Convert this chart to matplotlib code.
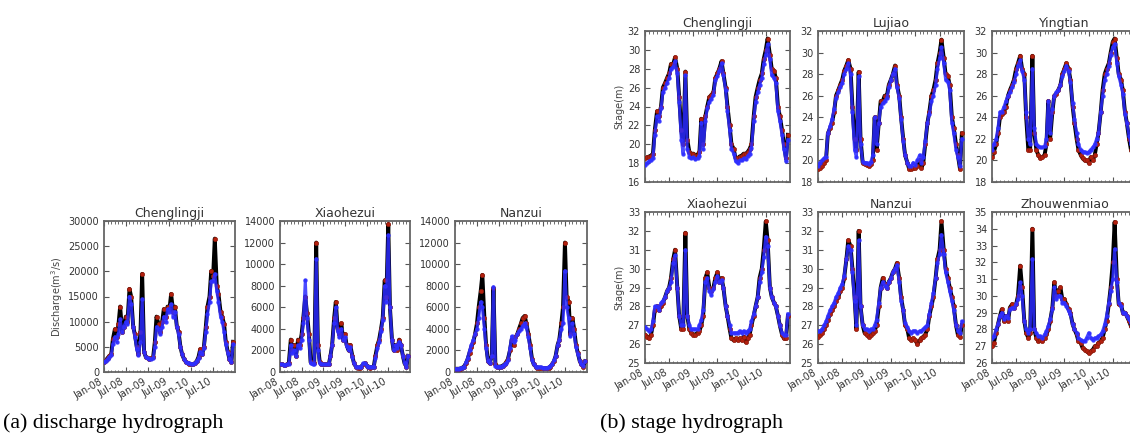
import matplotlib
matplotlib.use("Agg")
import matplotlib.pyplot as plt
import matplotlib.dates as mdates
import pandas as pd
from datetime import datetime

# semi-monthly sampling, Jan 2008 - Dec 2010
dates = pd.date_range("2008-01-01", "2010-12-16", freq="SMS")

# ---- discharge (m3/s) ----
q_cheng_obs = [2000, 2300, 2800, 3200, 3500, 6500, 8500, 7000, 9500, 13000, 8000, 9000,
               11000, 10000, 16500, 15000, 9000, 7500, 5000, 3500, 8000, 19500, 4000, 3000,
               2800, 2600, 2700, 3000, 6000, 11000, 9500, 8000, 10000, 12500, 11000, 13000,
               12500, 15500, 12000, 13000, 9000, 8000, 5000, 3500, 2500, 2000, 1800, 1600,
               1500, 1500, 1800, 2200, 3000, 4500, 3500, 5000, 9000, 13000, 15000, 20000,
               19000, 26500, 17000, 15500, 12000, 11000, 9500, 6000, 4000, 2500, 2000, 6000]
q_cheng_sim = [2000, 2200, 2600, 3000, 3300, 5500, 7000, 6000, 7500, 10500, 8000, 9000,
               10000, 9500, 15000, 13500, 9000, 7000, 4500, 3300, 6000, 14500, 4000, 3000,
               2700, 2500, 2600, 2800, 5000, 9000, 8500, 7500, 9000, 11000, 10000, 12500,
               12000, 13500, 11000, 12000, 9000, 7500, 5000, 3500, 2500, 2000, 1800, 1700,
               1600, 1600, 1800, 2200, 2800, 4000, 3500, 4800, 8000, 11500, 14000, 18000,
               18000, 19500, 16000, 14000, 11000, 10000, 8000, 5500, 3800, 2500, 2000, 5500]

q_xiao_obs = [700, 700, 650, 650, 700, 800, 3000, 2000, 2500, 1500, 3000, 2500,
              3500, 5000, 7000, 5500, 3500, 900, 800, 800, 12000, 2500, 900, 700,
              700, 700, 700, 700, 1500, 2500, 5000, 6500, 4000, 3500, 4500, 3000,
              3500, 2500, 2000, 2500, 1500, 800, 500, 400, 400, 500, 700, 800,
              600, 500, 400, 450, 500, 1500, 2500, 3000, 4000, 5000, 8500, 7000,
              13700, 6000, 3000, 2000, 2500, 2000, 3000, 2500, 1500, 800, 500, 1500]
q_xiao_sim = [700, 700, 650, 650, 700, 700, 2500, 1800, 2000, 1500, 2500, 2200,
              3000, 4500, 8500, 5000, 3000, 800, 700, 700, 10500, 2000, 800, 700,
              700, 700, 700, 700, 1500, 2500, 4500, 6000, 3800, 3200, 4000, 3000,
              3200, 2400, 2000, 2300, 1400, 800, 500, 450, 450, 500, 800, 800,
              600, 500, 450, 450, 500, 1300, 2200, 2800, 3800, 4800, 8000, 6500,
              12700, 6000, 3000, 2000, 2500, 2200, 2800, 2500, 1500, 800, 500, 1500]

q_nan_obs = [300, 300, 300, 300, 400, 500, 800, 1200, 1800, 2300, 2800, 3500,
             4500, 6000, 7500, 9000, 5000, 2500, 1000, 800, 1500, 7800, 700, 500,
             500, 500, 600, 700, 900, 1200, 2000, 3000, 2500, 3200, 3500, 4000,
             4500, 5000, 5200, 4500, 3500, 2500, 1200, 700, 500, 400, 400, 400,
             350, 350, 350, 400, 500, 700, 1000, 1500, 2500, 3000, 4500, 6000,
             12000, 7000, 6500, 3500, 5000, 4000, 2500, 1800, 1000, 700, 500, 1000]
q_nan_sim = [300, 300, 300, 350, 400, 500, 900, 1300, 2000, 2500, 3000, 3500,
             4000, 5000, 6500, 6000, 4000, 2200, 1000, 800, 1500, 7900, 600, 500,
             500, 500, 600, 700, 800, 1100, 2200, 3300, 2800, 3000, 3500, 3800,
             4000, 4300, 4500, 4200, 3200, 2200, 1100, 700, 500, 450, 450, 450,
             400, 400, 400, 450, 550, 700, 1100, 1500, 2500, 3000, 4000, 4500,
             9400, 6000, 5000, 3300, 4500, 3500, 2300, 1700, 1000, 700, 600, 1000]

# ---- stage (m) ----
h_cheng_obs = [18.5, 18.6, 18.7, 18.8, 19.0, 21.5, 23.5, 23.0, 24.0, 26.0, 26.5, 27.0,
               27.5, 28.5, 28.5, 29.2, 28.0, 25.0, 21.5, 20.0, 27.7, 20.5, 19.2, 19.0,
               19.0, 18.8, 18.9, 19.2, 22.7, 20.0, 23.0, 24.0, 25.0, 25.2, 25.5, 27.0,
               27.5, 28.0, 28.8, 27.5, 26.0, 24.0, 22.0, 20.0, 19.5, 18.5, 18.5, 18.7,
               18.8, 19.0, 19.0, 19.2, 19.5, 20.0, 23.0, 25.0, 26.0, 26.8, 27.5, 29.0,
               30.0, 31.2, 29.5, 28.0, 27.8, 27.0, 24.0, 23.0, 21.5, 20.0, 18.5, 21.0]
h_cheng_sim = [17.8, 18.0, 18.2, 18.3, 18.5, 21.0, 23.0, 22.5, 23.8, 25.5, 26.0, 26.5,
               27.0, 28.0, 28.2, 28.8, 27.5, 24.5, 20.5, 19.0, 27.3, 19.5, 18.7, 18.5,
               18.6, 18.4, 18.5, 18.8, 22.3, 19.5, 22.5, 23.8, 24.5, 24.8, 25.2, 26.8,
               27.2, 27.8, 28.6, 27.3, 25.8, 23.5, 21.5, 19.5, 19.0, 18.2, 18.0, 18.3,
               18.3, 18.5, 18.4, 18.8, 19.0, 19.6, 22.5, 24.5, 25.5, 26.3, 27.0, 28.5,
               29.5, 30.6, 29.0, 27.3, 27.0, 26.5, 23.5, 22.5, 21.0, 19.5, 18.2, 20.5]

h_luj_obs = [19.2, 19.3, 19.5, 19.8, 20.0, 22.5, 23.0, 23.5, 24.5, 26.0, 26.5, 27.0,
             27.5, 28.3, 28.8, 29.3, 28.5, 25.0, 22.0, 21.0, 28.2, 22.0, 19.8, 19.7,
             19.6, 19.5, 19.7, 20.0, 24.0, 21.0, 23.5, 25.5, 25.5, 26.0, 26.0, 27.0,
             27.5, 28.0, 28.8, 27.0, 26.0, 24.0, 22.0, 20.5, 19.8, 19.2, 19.2, 19.3,
             19.3, 19.5, 20.0, 19.3, 19.8, 21.5, 23.5, 24.5, 26.0, 26.5, 27.5, 29.0,
             30.0, 31.2, 29.5, 28.0, 27.8, 27.0, 24.0, 23.0, 21.5, 20.5, 19.2, 22.5]
h_luj_sim = [19.5, 19.8, 20.0, 20.2, 20.3, 22.5, 23.2, 23.8, 24.8, 25.8, 26.3, 26.8,
             27.2, 28.0, 28.5, 29.0, 28.0, 24.5, 21.0, 20.3, 27.8, 21.5, 19.9, 19.8,
             19.8, 19.7, 19.9, 20.5, 24.0, 21.5, 23.5, 25.0, 25.3, 25.5, 25.8, 26.8,
             27.5, 28.0, 28.5, 26.8, 25.8, 23.8, 21.8, 20.5, 19.8, 19.5, 19.5, 19.8,
             19.6, 20.0, 20.5, 19.8, 20.3, 21.8, 23.5, 24.3, 25.5, 26.0, 27.0, 28.5,
             29.5, 30.5, 29.0, 27.5, 27.3, 26.5, 23.5, 22.5, 21.0, 20.3, 19.5, 22.0]

h_ying_obs = [20.3, 20.8, 21.5, 22.5, 24.0, 24.3, 24.5, 25.0, 26.0, 26.5, 27.0, 27.5,
              28.5, 29.0, 29.7, 28.5, 28.0, 24.0, 21.0, 21.0, 29.7, 22.5, 21.0, 20.5,
              20.2, 20.3, 20.5, 21.5, 25.5, 22.0, 24.5, 26.0, 26.2, 26.5, 27.0, 28.0,
              28.5, 29.0, 28.5, 27.5, 25.0, 23.5, 22.0, 21.0, 20.5, 20.2, 20.0, 20.0,
              19.8, 20.3, 20.0, 20.5, 21.5, 22.5, 24.5, 26.5, 28.0, 28.5, 29.0, 30.0,
              31.0, 31.3, 29.5, 28.0, 27.5, 26.5, 24.5, 23.5, 22.0, 21.0, 20.5, 21.5]
h_ying_sim = [21.0, 21.5, 22.0, 23.0, 24.5, 24.5, 25.0, 25.5, 26.0, 26.3, 26.8, 27.3,
              28.0, 28.8, 29.3, 28.3, 27.5, 24.5, 22.0, 21.5, 28.5, 23.0, 21.5, 21.3,
              21.2, 21.2, 21.3, 22.0, 25.5, 22.5, 24.8, 26.0, 26.3, 26.5, 27.0, 27.8,
              28.3, 28.8, 28.3, 27.3, 25.3, 23.8, 22.5, 21.5, 21.0, 20.8, 20.8, 20.7,
              20.8, 21.0, 21.2, 21.5, 22.0, 22.5, 24.5, 26.0, 27.5, 28.0, 28.8, 29.8,
              30.5, 30.8, 29.0, 27.8, 27.0, 26.2, 24.3, 23.5, 22.3, 21.5, 21.0, 22.0]

h_xiao_obs = [26.5, 26.4, 26.3, 26.5, 27.0, 27.8, 28.0, 27.8, 28.0, 28.2, 28.5, 28.8,
              29.0, 29.5, 30.5, 31.0, 29.0, 27.5, 26.8, 26.8, 31.9, 27.5, 26.8, 26.6,
              26.5, 26.5, 26.6, 26.7, 27.0, 27.5, 29.5, 29.8, 29.0, 28.8, 29.0, 29.5,
              29.8, 29.3, 29.5, 29.0, 28.0, 27.5, 26.8, 26.3, 26.2, 26.3, 26.2, 26.3,
              26.2, 26.4, 26.1, 26.3, 26.5, 27.0, 27.5, 28.0, 28.5, 29.5, 30.0, 31.0,
              32.5, 31.5, 29.0, 28.5, 28.2, 28.0, 27.5, 27.0, 26.5, 26.3, 26.3, 27.5]
h_xiao_sim = [26.9, 26.8, 26.7, 26.8, 27.2, 28.0, 28.0, 27.8, 28.2, 28.3, 28.5, 28.8,
              29.0, 29.3, 30.3, 30.7, 29.0, 27.5, 27.0, 27.0, 31.0, 27.5, 27.0, 26.8,
              26.8, 26.8, 26.8, 27.0, 27.3, 27.8, 29.3, 29.5, 28.8, 28.6, 28.9, 29.3,
              29.6, 29.3, 29.4, 29.0, 28.0, 27.5, 27.0, 26.6, 26.6, 26.6, 26.6, 26.7,
              26.6, 26.7, 26.6, 26.7, 26.8, 27.2, 27.6, 28.0, 28.5, 29.3, 29.8, 30.6,
              31.7, 31.2, 29.0, 28.5, 28.2, 28.0, 27.5, 27.0, 26.6, 26.5, 26.5, 27.6]

h_nan_obs = [26.4, 26.5, 26.6, 26.8, 27.0, 27.3, 27.6, 27.8, 28.0, 28.3, 28.5, 28.8,
             29.0, 29.5, 30.5, 31.5, 31.2, 30.0, 28.5, 26.8, 32.0, 28.0, 27.0, 26.6,
             26.5, 26.4, 26.5, 26.6, 26.7, 27.0, 28.0, 29.0, 29.5, 29.2, 29.0, 29.3,
             29.5, 29.8, 30.0, 30.3, 29.5, 28.5, 27.8, 27.0, 26.8, 26.3, 26.2, 26.3,
             26.2, 26.0, 26.2, 26.3, 26.4, 26.5, 26.8, 27.5, 28.0, 28.5, 29.5, 30.5,
             31.0, 32.5, 31.0, 30.0, 29.5, 29.0, 28.5, 28.0, 27.0, 26.5, 26.4, 27.0]
h_nan_sim = [26.7, 26.7, 26.8, 27.0, 27.2, 27.5, 27.8, 28.0, 28.2, 28.5, 28.7, 29.0,
             29.2, 29.6, 30.5, 31.2, 31.0, 29.8, 28.3, 27.0, 31.5, 28.0, 27.0, 26.8,
             26.8, 26.7, 26.8, 26.8, 27.0, 27.3, 28.2, 29.0, 29.3, 29.1, 29.0, 29.3,
             29.5, 29.8, 30.0, 30.2, 29.3, 28.3, 27.8, 27.1, 26.9, 26.7, 26.6, 26.7,
             26.7, 26.6, 26.7, 26.7, 26.8, 26.9, 27.0, 27.6, 28.2, 28.7, 29.5, 30.3,
             30.8, 31.8, 30.8, 29.8, 29.3, 28.8, 28.3, 27.8, 27.0, 26.7, 26.6, 27.2]

h_zhou_obs = [27.0, 27.2, 27.8, 28.3, 28.8, 29.2, 28.5, 28.8, 28.5, 29.3, 29.5, 29.3,
              29.5, 30.0, 31.8, 30.5, 28.5, 27.8, 27.5, 27.8, 34.0, 28.0, 27.5, 27.3,
              27.4, 27.3, 27.5, 27.7, 28.0, 28.5, 29.3, 30.8, 30.0, 30.3, 30.5, 29.8,
              29.8, 29.5, 29.2, 29.0, 28.3, 28.0, 27.7, 27.3, 27.2, 26.9, 26.8, 26.7,
              26.6, 26.7, 26.8, 27.0, 27.0, 27.2, 27.3, 27.5, 28.0, 28.5, 29.5, 30.5,
              32.0, 34.4, 31.0, 29.5, 29.5, 29.0, 29.0, 28.8, 28.5, 28.2, 28.0, 28.3]
h_zhou_sim = [27.5, 27.6, 28.0, 28.3, 28.8, 29.0, 28.6, 28.8, 28.7, 29.2, 29.3, 29.3,
              29.5, 29.8, 30.8, 30.0, 28.5, 28.0, 27.8, 28.0, 32.2, 28.0, 27.8, 27.6,
              27.6, 27.5, 27.7, 27.9, 28.2, 28.6, 29.2, 30.5, 29.8, 30.0, 30.0, 29.6,
              29.6, 29.4, 29.1, 28.9, 28.3, 28.0, 27.8, 27.5, 27.4, 27.3, 27.3, 27.5,
              27.8, 27.5, 27.4, 27.5, 27.5, 27.6, 27.7, 27.9, 28.3, 28.8, 29.6, 30.3,
              31.0, 32.8, 30.8, 29.6, 29.4, 29.0, 29.0, 28.8, 28.6, 28.4, 28.3, 28.5]

W, H = 1130, 433
fig = plt.figure(figsize=(W / 100, H / 100), dpi=100)


def box(x0, x1, y0, y1):
    return [x0 / W, 1 - y1 / H, (x1 - x0) / W, (y1 - y0) / H]


def panel(rect, obs, sim, title, lo, hi, step, ylabel=None, xlabels=True):
    ax = fig.add_axes(box(*rect))
    ax.plot(dates, obs, color="black", lw=2.8, zorder=2)
    ax.plot(dates, obs, ls="none", marker="o", ms=3, mfc="#b3200e", mec="#8c1a0b",
            mew=0.5, zorder=3)
    ax.plot(dates, sim, color="#2b2bff", lw=2.2, marker="o", ms=2.2, mec="#3030ff",
            alpha=0.85, zorder=4)
    ax.set_xlim(datetime(2008, 1, 1), datetime(2010, 12, 31))
    ax.set_ylim(lo, hi)
    ax.set_yticks(range(lo, hi + 1, step))
    ax.xaxis.set_major_locator(mdates.MonthLocator((1, 7)))
    ax.xaxis.set_minor_locator(mdates.MonthLocator())
    ax.xaxis.set_major_formatter(mdates.DateFormatter("%b-%y"))
    ax.tick_params(which="both", direction="in", top=True, right=True,
                   labelsize=7, labelcolor="#333333", color="#555555")
    ax.tick_params(which="major", length=3.5)
    ax.tick_params(which="minor", length=1.8)
    for s in ax.spines.values():
        s.set_color("#666666")
        s.set_linewidth(1.3)
    ax.set_title(title, fontsize=9, color="#333333", pad=3)
    if ylabel:
        ax.set_ylabel(ylabel, fontsize=7, color="#444444", labelpad=2)
    if xlabels:
        for lab in ax.get_xticklabels():
            lab.set_rotation(30)
            lab.set_ha("right")
    else:
        ax.set_xticklabels([])
    return ax


# (a) discharge
panel((104, 235, 221, 372), q_cheng_obs, q_cheng_sim, "Chenglingji", 0, 30000, 5000,
      ylabel="Discharge(m$^3$/s)")
panel((280, 410, 221, 372), q_xiao_obs, q_xiao_sim, "Xiaohezui", 0, 14000, 2000)
panel((455, 587, 221, 372), q_nan_obs, q_nan_sim, "Nanzui", 0, 14000, 2000)

# (b) stage
panel((645, 790, 31, 182), h_cheng_obs, h_cheng_sim, "Chenglingji", 16, 32, 2,
      ylabel="Stage(m)", xlabels=False)
panel((818, 964, 31, 182), h_luj_obs, h_luj_sim, "Lujiao", 18, 32, 2, xlabels=False)
panel((992, 1137, 31, 182), h_ying_obs, h_ying_sim, "Yingtian", 18, 32, 2, xlabels=False)
panel((645, 790, 212, 363), h_xiao_obs, h_xiao_sim, "Xiaohezui", 25, 33, 1,
      ylabel="Stage(m)")
panel((818, 964, 212, 363), h_nan_obs, h_nan_sim, "Nanzui", 25, 33, 1)
panel((992, 1137, 212, 363), h_zhou_obs, h_zhou_sim, "Zhouwenmiao", 26, 35, 1)

fig.text(3 / W, 1 - 428 / H, "(a) discharge hydrograph", family="Liberation Serif",
         fontsize=15.8, va="baseline")
fig.text(600 / W, 1 - 428 / H, "(b) stage hydrograph", family="Liberation Serif",
         fontsize=15.8, va="baseline")

fig.savefig("out.png", dpi=100)
